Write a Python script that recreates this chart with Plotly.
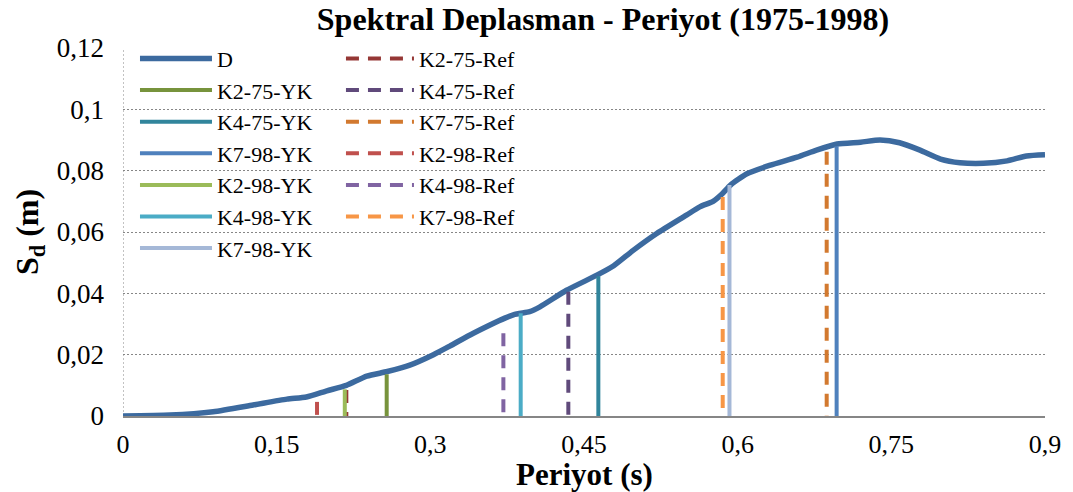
import plotly.graph_objects as go

# Spectral displacement curve D (period in s, Sd in m)
period = [0, 0.046, 0.088, 0.127, 0.160, 0.179, 0.199, 0.218, 0.238, 0.258,
          0.280, 0.303, 0.319, 0.342, 0.381, 0.397, 0.407, 0.433, 0.463, 0.479,
          0.498, 0.521, 0.550, 0.563, 0.576, 0.585, 0.593, 0.609, 0.632, 0.658,
          0.677, 0.697, 0.720, 0.739, 0.758, 0.778, 0.798, 0.817, 0.840, 0.863,
          0.882, 0.9]
sd = [0, 0.0003, 0.0014, 0.0036, 0.0055, 0.0062, 0.0082, 0.0100, 0.0130, 0.0145,
      0.0166, 0.0200, 0.0228, 0.0270, 0.0330, 0.0340, 0.0356, 0.0410, 0.0460, 0.0490,
      0.0540, 0.0595, 0.0655, 0.0682, 0.0700, 0.0725, 0.0753, 0.0790, 0.0818, 0.0844,
      0.0867, 0.0887, 0.0893, 0.0900, 0.0891, 0.0867, 0.0838, 0.0826, 0.0824, 0.0832,
      0.0848, 0.0852]

# Performance points (YK) - vertical markers
yk_names = ["K2-75-YK", "K4-75-YK", "K7-98-YK", "K2-98-YK", "K4-98-YK", "K7-98-YK"]
yk_period = [0.2574, 0.4640, 0.6966, 0.2165, 0.3882, 0.5920]
yk_sd = [0.0136, 0.0456, 0.0880, 0.0087, 0.0335, 0.0753]
yk_colors = ["#77933C", "#31859C", "#4F81BD", "#9BBB59", "#4BACC6", "#A5B8D7"]

# Reference points (Ref) - dashed vertical markers
ref_names = ["K2-75-Ref", "K4-75-Ref", "K7-75-Ref", "K2-98-Ref", "K4-98-Ref", "K7-98-Ref"]
ref_period = [0.2180, 0.4347, 0.6869, 0.1894, 0.3713, 0.5854]
ref_sd = [0.0085, 0.0405, 0.0862, 0.0046, 0.0270, 0.0714]
ref_colors = ["#953735", "#604A7B", "#D2792F", "#C0504D", "#8064A2", "#F79646"]

x_tickvals = [0, 0.15, 0.3, 0.45, 0.6, 0.75, 0.9]
x_ticktext = ["0", "0,15", "0,3", "0,45", "0,6", "0,75", "0,9"]
y_tickvals = [0, 0.02, 0.04, 0.06, 0.08, 0.1, 0.12]
y_ticktext = ["0", "0,02", "0,04", "0,06", "0,08", "0,1", "0,12"]

SERIF = "Liberation Serif, Times New Roman, serif"

fig = go.Figure()

fig.add_trace(go.Scatter(
    x=period, y=sd, mode="lines", name="D",
    line=dict(color="#3C6A9F", width=5.5, shape="spline", smoothing=0.6),
    legend="legend", legendrank=1,
))

for i, (n, px, py, c) in enumerate(zip(ref_names, ref_period, ref_sd, ref_colors)):
    fig.add_trace(go.Scatter(
        x=[px, px], y=[py, 0], mode="lines", name=n,
        line=dict(color=c, width=4, dash="13px,9px"),
        legend="legend2", legendrank=10 + i,
    ))

for i, (n, px, py, c) in enumerate(zip(yk_names, yk_period, yk_sd, yk_colors)):
    fig.add_trace(go.Scatter(
        x=[px, px], y=[py, 0], mode="lines", name=n,
        line=dict(color=c, width=4),
        legend="legend", legendrank=2 + i,
    ))

# dotted left boundary of the plot area
fig.add_shape(type="line", xref="x", yref="paper", x0=0, x1=0, y0=0, y1=1,
              line=dict(color="#868686", width=1, dash="2px,2px"), layer="below")

legend_common = dict(
    font=dict(family=SERIF, size=22, color="#000000"),
    bgcolor="rgba(0,0,0,0)", borderwidth=0,
    orientation="v", xanchor="left", yanchor="top",
    traceorder="normal", itemclick=False, itemdoubleclick=False,
)

fig.update_layout(
    width=1073, height=492,
    margin=dict(l=123, r=28, t=48, b=76),
    paper_bgcolor="white", plot_bgcolor="white",
    title=dict(text="<b>Spektral Deplasman - Periyot (1975-1998)</b>",
               font=dict(family=SERIF, size=32, color="#000000"),
               x=603 / 1073, xref="container", xanchor="center",
               y=1 - 19 / 492, yref="container", yanchor="middle"),
    xaxis=dict(range=[0, 0.9], tickvals=x_tickvals, ticktext=x_ticktext,
               showgrid=False, zeroline=False,
               showline=True, linecolor="#868686", linewidth=2,
               ticks="", ticklabelstandoff=4,
               tickfont=dict(family=SERIF, size=26, color="#000000")),
    yaxis=dict(range=[0, 0.12], tickvals=y_tickvals, ticktext=y_ticktext,
               showgrid=True, gridcolor="#868686", gridwidth=1, griddash="2px,2px",
               zeroline=False, showline=False, ticks="", ticklabelstandoff=18,
               tickfont=dict(family=SERIF, size=27, color="#000000"),
               title=dict(text="<b>S<sub>d</sub> (m)</b>", standoff=8,
                          font=dict(family=SERIF, size=32, color="#000000"))),
    legend=dict(x=0.0130, y=1.028, itemwidth=72, **legend_common),
    legend2=dict(x=0.2364, y=1.028, itemwidth=68, **legend_common),
    showlegend=True,
    annotations=[dict(text="<b>Periyot (s)</b>", xref="paper", yref="paper",
                      x=0.5, y=-(474 - 416) / 368, xanchor="center", yanchor="middle",
                      showarrow=False,
                      font=dict(family=SERIF, size=31, color="#000000"))],
)

fig.write_html("out.html")
